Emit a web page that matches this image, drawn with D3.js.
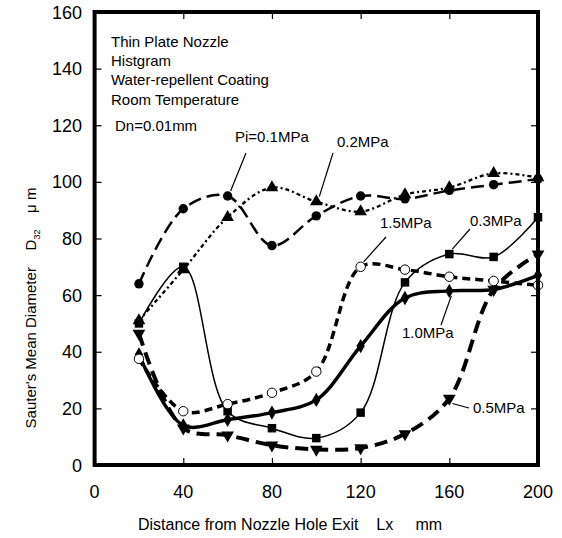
<!DOCTYPE html>
<html>
<head>
<meta charset="utf-8">
<script src="https://cdn.jsdelivr.net/npm/d3@7"></script>
<style>
  body { margin: 0; background: #fff; }
  svg text { font-family: "Liberation Sans", Arial, sans-serif; fill: #000; }
</style>
</head>
<body>
<svg id="chart" width="562" height="538"></svg>
<script>
// distance from nozzle hole exit, mm
const distance = [20, 40, 60, 80, 100, 120, 140, 160, 180, 200];

// Sauter's mean diameter D32 (um), one array per injection pressure
const pi01 = [64, 90.5, 95, 77.5, 88, 95, 94, 97, 99, 101];
const pi02 = [51, 69, 87.5, 98, 93, 89.5, 95.5, 98, 103, 101.5];
const pi03 = [50, 70, 19, 13, 9.5, 18.5, 64.5, 74.5, 73.5, 87.5];
const pi05 = [46.5, 13, 10.5, 7, 5.5, 6, 11, 23.5, 62, 74.5];
const pi10 = [39, 14, 16, 18.5, 23, 42, 59, 61.5, 62, 67];
const pi15 = [37.5, 19, 21.5, 25.5, 33, 70, 69, 66.5, 65, 63.5];

const xTicks = [0, 40, 80, 120, 160, 200];
const yTicks = [0, 20, 40, 60, 80, 100, 120, 140, 160];

const infoLines = ["Thin Plate Nozzle", "Histgram", "Water-repellent Coating", "Room Temperature", "Dn=0.01mm"];

const svg = d3.select('#chart');

const x = d3.scaleLinear().domain([0, 200]).range([94.6, 538]);
const y = d3.scaleLinear().domain([0, 160]).range([465, 12]);

// ticks, all pointing inward
const tickLen = 7;
svg.append('g').attr('transform', `translate(0,${y(0)})`)
  .call(d3.axisBottom(x).tickValues(xTicks).tickSizeInner(-tickLen).tickSizeOuter(0).tickFormat(''))
  .call(g => g.select('.domain').remove());
svg.append('g').attr('transform', `translate(0,${y(160)})`)
  .call(d3.axisTop(x).tickValues(xTicks).tickSizeInner(-tickLen).tickSizeOuter(0).tickFormat(''))
  .call(g => g.select('.domain').remove());
svg.append('g').attr('transform', `translate(${x(0)},0)`)
  .call(d3.axisLeft(y).tickValues(yTicks).tickSizeInner(-tickLen).tickSizeOuter(0).tickFormat(''))
  .call(g => g.select('.domain').remove());
svg.append('g').attr('transform', `translate(${x(200)},0)`)
  .call(d3.axisRight(y).tickValues(yTicks).tickSizeInner(-tickLen).tickSizeOuter(0).tickFormat(''))
  .call(g => g.select('.domain').remove());
svg.selectAll('.tick line').attr('stroke', '#000').attr('stroke-width', 1.2);

// tick labels
svg.append('g').selectAll('text').data(xTicks).join('text')
  .attr('x', d => x(d)).attr('y', 498)
  .attr('text-anchor', 'middle').style('font-size', '18px')
  .text(d => d);
svg.append('g').selectAll('text').data(yTicks).join('text')
  .attr('x', 82).attr('y', d => y(d) + 6.5)
  .attr('text-anchor', 'end').style('font-size', '18px')
  .text(d => d);

// axis titles
svg.append('text')
  .attr('x', 290).attr('y', 530)
  .attr('text-anchor', 'middle').style('font-size', '16px')
  .attr('xml:space', 'preserve')
  .text('Distance from Nozzle Hole Exit    Lx     mm');

let yTitle = svg.append('text')
  .attr('transform', 'translate(36,308) rotate(-90)')
  .attr('text-anchor', 'middle').style('font-size', '15px')
  .attr('xml:space', 'preserve');
yTitle.append('tspan').text("Sauter's Mean Diameter    D");
yTitle.append('tspan').attr('dy', 4).style('font-size', '9px').text('32');
yTitle.append('tspan').attr('dy', -4).text('    \u03bc m');

// series
const series = [
  {name: 'Pi=0.1MPa', vals: pi01, width: 2.5, dash: '13,6', marker: 'circle'},
  {name: '0.2MPa', vals: pi02, width: 2.3, dash: '4,3,2,3', marker: 'triangle'},
  {name: '0.3MPa', vals: pi03, width: 1.5, dash: null, marker: 'square'},
  {name: '0.5MPa', vals: pi05, width: 4, dash: '13,7', marker: 'down'},
  {name: '1.0MPa', vals: pi10, width: 3.5, dash: null, marker: 'diamond'},
  {name: '1.5MPa', vals: pi15, width: 3.5, dash: '8,5', marker: 'open'}
];

const line = d3.line()
  .x((d, i) => x(distance[i]))
  .y(d => y(d))
  .curve(d3.curveCatmullRom.alpha(0.5));

svg.append('g').selectAll('path').data(series).join('path')
  .attr('d', d => line(d.vals))
  .attr('fill', 'none')
  .attr('stroke', '#000')
  .attr('stroke-width', d => d.width)
  .attr('stroke-dasharray', d => d.dash);

function symbolFor(m){
  if(m === 'circle' || m === 'open') return d3.symbol(d3.symbolCircle, 70)();
  if(m === 'square') return d3.symbol(d3.symbolSquare, 72)();
  if(m === 'diamond') return d3.symbol(d3.symbolDiamond, 60)();
  return d3.symbol(d3.symbolTriangle, 70)();
}

series.forEach(s => {
  svg.append('g').selectAll('path').data(s.vals).join('path')
    .attr('d', symbolFor(s.marker))
    .attr('transform', (d, i) => `translate(${x(distance[i])},${y(d)})` + (s.marker === 'down' ? ' rotate(180)' : ''))
    .attr('fill', s.marker === 'open' ? '#fff' : '#000')
    .attr('stroke', '#000')
    .attr('stroke-width', s.marker === 'open' ? 1 : 0);
});

// frame
svg.append('rect')
  .attr('x', x(0)).attr('y', y(160))
  .attr('width', x(200) - x(0)).attr('height', y(0) - y(160))
  .attr('fill', 'none').attr('stroke', '#000').attr('stroke-width', 4);

// info text block
svg.append('g').selectAll('text').data(infoLines).join('text')
  .attr('x', (d, i) => i === 4 ? 115 : 111)
  .attr('y', (d, i) => [47, 66, 85, 105, 131][i])
  .style('font-size', '15px')
  .text(d => d);

// series labels with leader lines
const labels = [
  {text: 'Pi=0.1MPa', lx: 235, ly: 142, from: [246, 153], to: [0, 60, pi01]},
  {text: '0.2MPa', lx: 337, ly: 147, from: [333, 153], to: [0, 100, pi02]},
  {text: '1.5MPa', lx: 380, ly: 228, from: [386, 237], to: [0, 120, pi15]},
  {text: '0.3MPa', lx: 470, ly: 226, from: [470, 229], to: [0, 160, pi03]},
  {text: '1.0MPa', lx: 402, ly: 338, from: [441, 325], to: [0, 160, pi10]},
  {text: '0.5MPa', lx: 473, ly: 413, from: [469, 408], to: [0, 160, pi05]}
];
const lblG = svg.append('g');
labels.forEach(l => {
  const tx = x(l.to[1]);
  const ty = y(l.to[2][distance.indexOf(l.to[1])]);
  lblG.append('line')
    .attr('x1', l.from[0]).attr('y1', l.from[1])
    .attr('x2', tx + (l.from[0] > tx ? 3 : 2)).attr('y2', ty + (l.from[1] > ty ? 5 : -5))
    .attr('stroke', '#000').attr('stroke-width', 1.2);
  lblG.append('text').attr('x', l.lx).attr('y', l.ly).style('font-size', '15px').text(l.text);
});
</script>
</body>
</html>
